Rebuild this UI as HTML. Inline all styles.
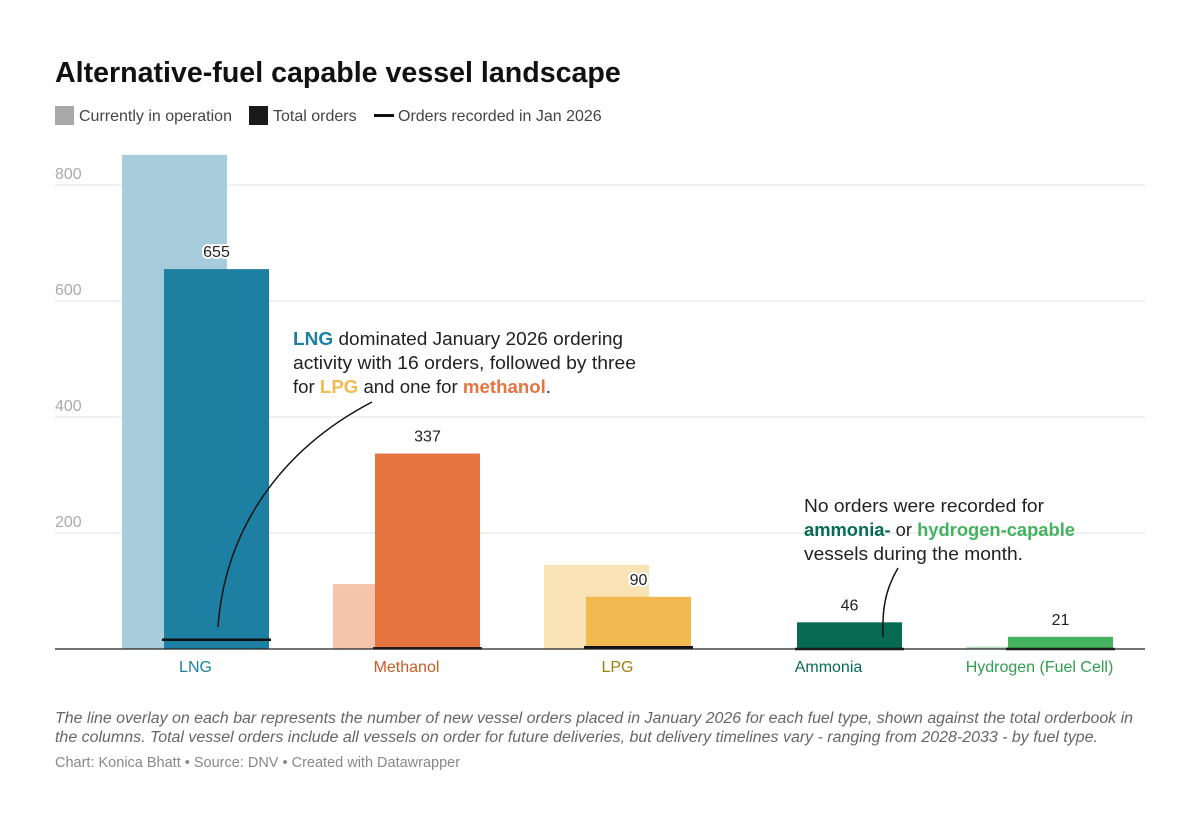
<!DOCTYPE html>
<html><head><meta charset="utf-8">
<style>
body{margin:0;background:#fff;width:1200px;height:826px;overflow:hidden;font-family:"Liberation Sans",sans-serif}
svg text{font-family:"Liberation Sans",sans-serif}
</style></head><body>
<svg id="chart" width="1200" height="826" xmlns="http://www.w3.org/2000/svg">
<text x="55" y="82" font-size="28.6" font-weight="bold" fill="#111">Alternative-fuel capable vessel landscape</text>
<g font-size="16" fill="#333">
<rect x="55" y="106" width="19" height="19" fill="#a8a8a8"/>
<text x="79" y="121" fill="#444">Currently in operation</text>
<rect x="249" y="106" width="19" height="19" fill="#1a1a1a"/>
<text x="273" y="121" fill="#444">Total orders</text>
<rect x="374" y="114" width="20" height="3" fill="#111"/>
<text x="398" y="121" fill="#444">Orders recorded in Jan 2026</text>
</g>
<g id="grid"></g>
<g id="bars"></g>
<g font-size="18" fill="#222">
<text x="293" y="345" textLength="330" lengthAdjust="spacingAndGlyphs"><tspan font-weight="bold" fill="#1d80a2">LNG</tspan> dominated January 2026 ordering</text>
<text x="293" y="369" textLength="343" lengthAdjust="spacingAndGlyphs">activity with 16 orders, followed by three</text>
<text x="293" y="393" textLength="258" lengthAdjust="spacingAndGlyphs">for <tspan font-weight="bold" fill="#f2b950">LPG</tspan> and one for <tspan font-weight="bold" fill="#e67440">methanol</tspan>.</text>
<path d="M372,402 C280,450 225,530 218,627" fill="none" stroke="#111" stroke-width="1.5"/>
</g>
<g font-size="18" fill="#222">
<text x="804" y="512" textLength="240" lengthAdjust="spacingAndGlyphs">No orders were recorded for</text>
<text x="804" y="536" textLength="271" lengthAdjust="spacingAndGlyphs"><tspan font-weight="bold" fill="#076b54">ammonia-</tspan> or <tspan font-weight="bold" fill="#44b25f">hydrogen-capable</tspan></text>
<text x="804" y="560" textLength="219" lengthAdjust="spacingAndGlyphs">vessels during the month.</text>
<path d="M898,568 C885,590 882,610 883,637" fill="none" stroke="#111" stroke-width="1.5"/>
</g>
<g>
<text x="55" y="723" font-size="15.5" font-style="italic" fill="#666" textLength="1078" lengthAdjust="spacingAndGlyphs">The line overlay on each bar represents the number of new vessel orders placed in January 2026 for each fuel type, shown against the total orderbook in</text>
<text x="55" y="742" font-size="15.5" font-style="italic" fill="#666" textLength="1043" lengthAdjust="spacingAndGlyphs">the columns. Total vessel orders include all vessels on order for future deliveries, but delivery timelines vary - ranging from 2028-2033 - by fuel type.</text>
<text x="55" y="767" font-size="14.5" fill="#888">Chart: Konica Bhatt • Source: DNV • Created with Datawrapper</text>
</g>
</svg>
<script>
const categories=["LNG","Methanol","LPG","Ammonia","Hydrogen (Fuel Cell)"];
const operation=[852,112,145,1,4];
const orders=[655,337,90,46,21];
const janOrders=[16,1,3,0,0];
const ticks=[200,400,600,800];
const opColors=["#a7cddc","#f5c4ab","#f9e2b4","#b5d6cb","#b8e0c0"];
const ordColors=["#1d80a2","#e67440","#f2b950","#076b54","#44b25f"];
const labColors=["#1d80a2","#c85b22","#a07d10","#076b54","#2f9e4e"];
const NS="http://www.w3.org/2000/svg";
const base=649, k=0.58;
const y=v=>base-v*k;
const x0=i=>122+i*211;
function mk(t,a,p){const e=document.createElementNS(NS,t);for(const n in a)e.setAttribute(n,a[n]);p.appendChild(e);return e;}
const grid=document.getElementById('grid'),bars=document.getElementById('bars');
ticks.forEach(t=>{
 const l=mk('line',{x1:55,x2:1145,y1:y(t),y2:y(t),stroke:'#e2e2e2','stroke-width':1},grid);
 
 
 const tx=mk('text',{x:55,y:y(t)-6,'font-size':16,fill:'#aaa'},grid);
 
 
 tx.textContent=t;
});
categories.forEach((c,i)=>{
 const a=mk('rect',{x:x0(i),y:y(operation[i]),width:105,height:operation[i]*k,fill:opColors[i]},bars);
 
 
 const b=mk('rect',{x:x0(i)+42,y:y(orders[i]),width:105,height:orders[i]*k,fill:ordColors[i]},bars);
 
 
 const j=mk('line',{x1:x0(i)+40,x2:x0(i)+149,y1:y(janOrders[i]),y2:y(janOrders[i]),stroke:'#111','stroke-width':2.5},bars);
 
 
 const v=mk('text',{x:x0(i)+94.5,y:y(orders[i])-12,'font-size':16,fill:'#222','text-anchor':'middle',stroke:'#fff','stroke-width':4,'paint-order':'stroke'},bars);
 
 
 v.textContent=orders[i];
 const cl=mk('text',{x:x0(i)+73.5,y:672,'font-size':16,fill:labColors[i],'text-anchor':'middle'},bars);
 
 
 cl.textContent=c;
});
const ax=mk('line',{x1:55,x2:1145,y1:base,y2:base,stroke:'#222','stroke-width':1.3},bars);


</script>
</body></html>
